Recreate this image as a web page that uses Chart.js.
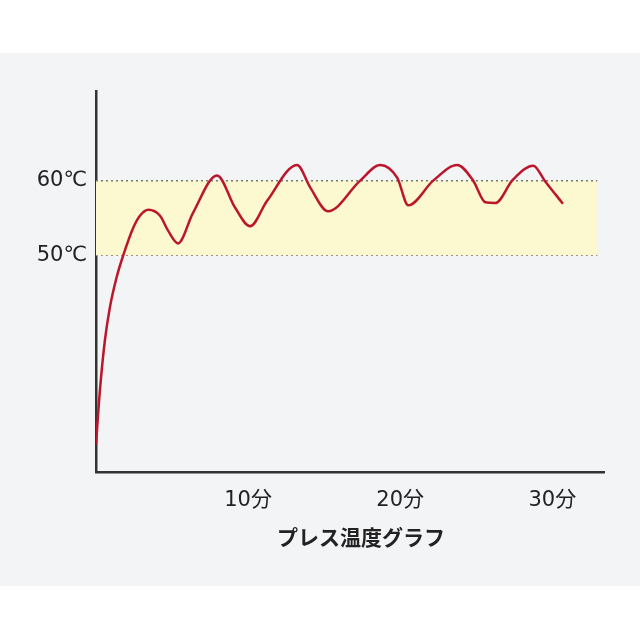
<!DOCTYPE html>
<html>
<head>
<meta charset="utf-8">
<script src="https://cdn.jsdelivr.net/npm/chart.js@4/dist/chart.umd.min.js"></script>
<style>
  body { margin: 0; background: #fff; }
  #wrap { position: absolute; left: 0; top: 53px; width: 640px; height: 533px; background: #f3f4f6; }
</style>
</head>
<body>
<div id="wrap"><canvas id="myChart" width="640" height="533"></canvas></div>
<script>
// temperature curve (minutes, ℃)
const minutes = [0, 0.26, 0.59, 0.92, 1.36, 1.79, 2.45, 2.89, 3.44, 4.21, 4.74, 5.39, 6.38, 7.96, 9.14, 10.13, 11.25, 13.22, 14.08, 15.26, 17.37, 18.68, 19.8, 20.53, 22.17, 23.75, 24.8, 25.6, 26.25, 27.4, 28.75, 29.5, 30.7];
const temps = [24.7, 32, 38.7, 43.1, 47.1, 50, 53.7, 55.3, 56.1, 55.3, 53.3, 51.6, 55.7, 60.7, 56.4, 53.9, 57.3, 62.1, 59.1, 55.9, 60, 62.1, 60.4, 56.7, 60, 62.1, 60, 57.1, 57, 60.1, 62, 60, 56.9];

// target band
const bandX = [0, 32.96];
const bandHigh = 60;
const bandLow = 50;

const xTicks = [10, 20, 30];
const yTicks = [50, 60];
const caption = 'プレス温度グラフ';

const fontFam = '"DejaVu Sans", "Noto Sans CJK JP", sans-serif';
const capFam = '"Noto Sans CJK JP", sans-serif';

const captionPlugin = {
    id: 'caption',
    afterDraw(chart) {
        const ctx = chart.ctx;
        ctx.save();
        ctx.font = 'bold 21px ' + capFam;
        ctx.fillStyle = '#222';
        ctx.textAlign = 'center';
        ctx.textBaseline = 'middle';
        ctx.fillText(caption, chart.chartArea.left + 265, chart.chartArea.bottom + 65);
        ctx.restore();
    }
};

new Chart('myChart', {
    type: 'line',
    data: {
        datasets: [{
            data: minutes.map((m, i) => ({x: m, y: temps[i]})),
            borderColor: '#bb162b',
            borderWidth: 2.5,
            pointRadius: 0,
            cubicInterpolationMode: 'monotone',
            fill: false
        }, {
            data: bandX.map(x => ({x: x, y: bandHigh})),
            borderColor: '#7a7a6a',
            borderWidth: 1.5,
            borderDash: [2, 3],
            pointRadius: 0,
            backgroundColor: '#fcf8d0',
            fill: '+1'
        }, {
            data: bandX.map(x => ({x: x, y: bandLow})),
            borderColor: '#7a7a6a',
            borderWidth: 1.5,
            borderDash: [2, 3],
            pointRadius: 0,
            fill: false
        }]
    },
    options: {
        responsive: false,
        animation: false,
        layout: { padding: { top: 38, right: 36, left: 0, bottom: 0 } },
        plugins: { legend: { display: false }, tooltip: { enabled: false } },
        scales: {
            x: {
                type: 'linear',
                min: 0,
                max: 33.4,
                grid: { display: false },
                border: { display: true, color: '#333', width: 2.5 },
                afterBuildTicks: s => { s.ticks = xTicks.map(v => ({value: v})); },
                afterFit: s => { s.height = 114; },
                ticks: {
                    padding: 8,
                    color: '#222',
                    font: { family: fontFam, size: 21 },
                    callback: v => v + '分'
                }
            },
            y: {
                min: 21,
                max: 72,
                grid: { display: false },
                border: { display: true, color: '#333', width: 2.5 },
                afterBuildTicks: s => { s.ticks = yTicks.map(v => ({value: v})); },
                afterFit: s => { s.width = 96; },
                ticks: {
                    padding: 1,
                    color: '#222',
                    font: { family: fontFam, size: 21 },
                    callback: v => v + '℃'
                }
            }
        }
    },
    plugins: [captionPlugin]
});
</script>
</body>
</html>
